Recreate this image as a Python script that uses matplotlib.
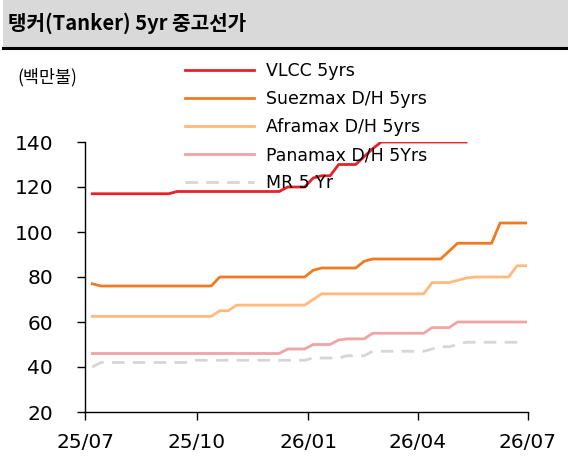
import matplotlib
matplotlib.use('Agg')
import pandas as pd
import matplotlib.pyplot as plt
import matplotlib.dates as mdates
from matplotlib.patches import Rectangle
from matplotlib.lines import Line2D

plt.rcParams['font.family'] = ['DejaVu Sans', 'Noto Sans CJK KR']

# weekly price data, $ million
dates = pd.date_range('2025-07-07', periods=52, freq='7D')

vlcc = [117]*10 + [118]*13 + [120]*3 + [124] + [125]*2 + [130]*3 + [133.5, 137] + [140]*11
suezmax = [77] + [76]*14 + [80]*11 + [83] + [84]*5 + [87] + [88]*9 + [91.5] + [95]*5 + [104]*4
aframax = [62.5]*15 + [65]*2 + [67.5]*9 + [70] + [72.5]*13 + [77.5]*3 + [78.5, 79.5] + [80]*5 + [85]*2
panamax = [46]*23 + [48]*3 + [50]*3 + [52] + [52.5]*3 + [55]*7 + [57.5]*3 + [60]*9
mr = [40] + [42]*11 + [43]*14 + [44]*4 + [45]*3 + [47]*7 + [48] + [49]*2 + [50] + [51]*8

labels = ['VLCC 5yrs', 'Suezmax D/H 5yrs', 'Aframax D/H 5yrs', 'Panamax D/H 5Yrs', 'MR 5 Yr']
colors = ['#E8202A', '#F07A22', '#FFBA7C', '#F0A4A4', '#D6D6D6']
xticks = ['2025-07-01', '2025-10-01', '2026-01-01', '2026-04-01', '2026-07-01']

fig = plt.figure(figsize=(5.68, 4.67), dpi=100)

# title bar
fig.patches.append(Rectangle((3/568, 1-47/467), 1, 47/467, transform=fig.transFigure,
                             facecolor='#D9D9D9', edgecolor='none', zorder=0))
fig.lines.append(Line2D([3/568, 1], [1-48/467, 1-48/467], transform=fig.transFigure,
                        color='black', lw=2.2))
fig.text(8/568, 1-23/467, '탱커(Tanker) 5yr 중고선가', family=['Noto Sans CJK KR'],
         fontsize=14.5, fontweight='bold', va='center', ha='left')
fig.text(17/568, 1-77/467, '(백만불)', family=['Noto Sans CJK KR'], fontsize=12.5,
         va='center', ha='left')

ax = fig.add_axes([85/568, 1-412/467, 443/568, 270/467])

series = [vlcc, suezmax, aframax, panamax, mr]
for vals, lab, col in zip(series, labels, colors):
    if lab == 'MR 5 Yr':
        ax.plot(dates[:len(vals)], vals, color=col, lw=2, dashes=(4.5, 3), label=lab)
    else:
        ax.plot(dates[:len(vals)], vals, color=col, lw=2, label=lab)

ax.set_xlim(pd.Timestamp('2025-07-01'), pd.Timestamp('2026-07-01'))
ax.set_ylim(20, 140)
ax.set_yticks(range(20, 141, 20))
ax.set_xticks(pd.to_datetime(xticks))
ax.xaxis.set_major_formatter(mdates.DateFormatter('%y/%m'))

for s in ['top', 'right']:
    ax.spines[s].set_visible(False)
for s in ['left', 'bottom']:
    ax.spines[s].set_linewidth(1.0)
ax.tick_params(axis='y', length=6, width=1, labelsize=14.5, pad=17)
ax.tick_params(axis='x', length=6, width=1, labelsize=14.5, pad=9)

fig.legend(loc='upper left', bbox_to_anchor=(185/568, 1-62/467), frameon=False,
           fontsize=12.5, handlelength=4.0, handletextpad=0.65, labelspacing=0.58,
           borderpad=0, borderaxespad=0)

fig.savefig('out.png', dpi=100)
